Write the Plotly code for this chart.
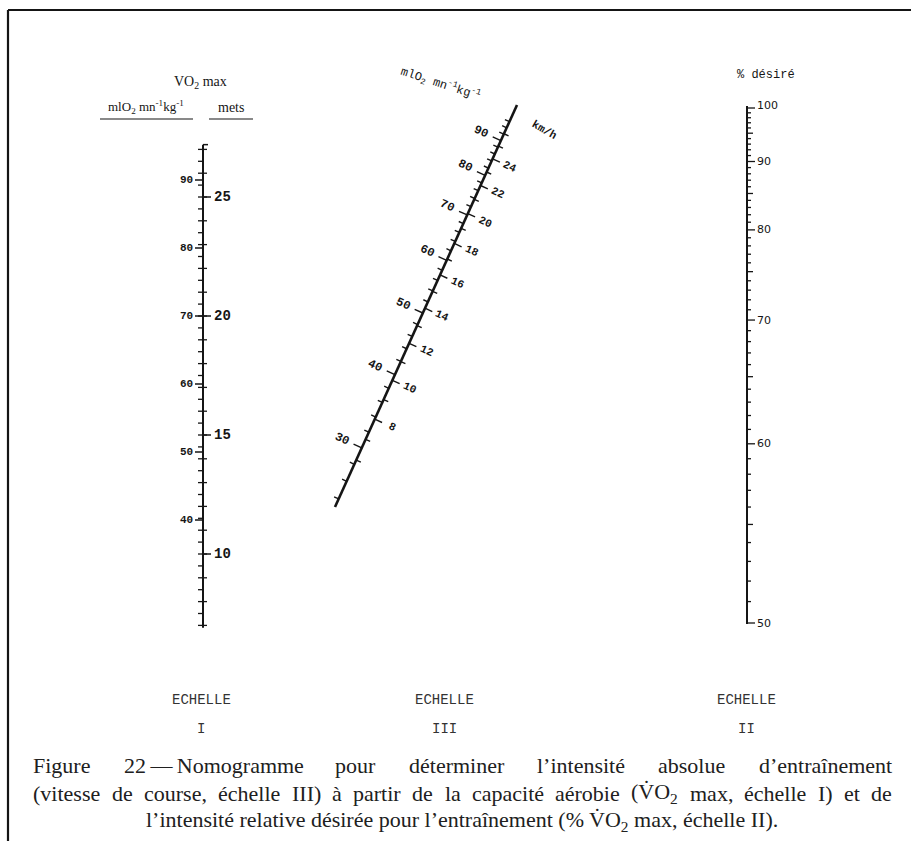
import numpy as np
import plotly.graph_objects as go

# ------------------------------------------------------------------ data
scale1_vo2_labels = [40, 50, 60, 70, 80, 90]            # ml O2 . mn-1 . kg-1
scale1_mets_labels = [10, 15, 20, 25]                    # mets
scale2_pct_labels = [50, 60, 70, 80, 90, 100]            # % désiré
scale3_vo2_labels = [30, 40, 50, 60, 70, 80, 90]         # ml O2 . mn-1 . kg-1
scale3_kmh_labels = [8, 10, 12, 14, 16, 18, 20, 22, 24]  # km/h
echelle_names = ["I", "III", "II"]
caption_lines = [
    "Figure 22\u2009—\u2009Nomogramme pour déterminer l’intensité absolue d’entraînement",
    "(vitesse de course, échelle III) à partir de la capacité aérobie (V\u0307O<sub>2</sub> max, échelle I) et de",
    "l’intensité relative désirée pour l’entraînement (% V\u0307O<sub>2</sub> max, échelle II).",
]

# scale graduations (tick values)
scale1_mets_minor = np.arange(7.0, 27.01, 0.5)
scale2_pct_minor = np.arange(50, 101, 1)
scale3_vo2_minor = np.arange(24, 97, 2)
scale3_kmh_minor = np.arange(6, 27, 1)

# ------------------------------------------------------------------ geometry of the nomogram
W, H = 911, 841
INK = "#151515"
X1 = 203.0                      # scale I
X2 = 747.0                      # scale II
A3 = np.array([335.0, 507.0])   # scale III bottom end
B3 = np.array([517.0, 105.0])   # scale III top end


def y1_mets(m):
    return 316.0 - (m - 20.0) * 23.8


def y1_ml(v):
    return y1_mets(v / 3.5)


def y2(p):
    return 108.0 + 515.0 * ((100.0 / p) ** 1.2 - 1.0) / (2 ** 1.2 - 1.0)


def p3_vo2(r):
    """point of scale III: alignment of scale I (r) with 100 % on scale II"""
    p1 = np.array([X1, y1_ml(r)])
    p2 = np.array([X2, y2(100)])
    d1 = p2 - p1
    d2 = B3 - A3
    M = np.array([[d1[0], -d2[0]], [d1[1], -d2[1]]])
    t, s = np.linalg.solve(M, A3 - p1)
    return A3 + s * d2


def kmh_to_vo2(v):
    # Léger & Mercier running cost
    return 14.49 + 2.143 * v + 0.0324 * v * v


d3 = (B3 - A3) / np.linalg.norm(B3 - A3)
n_left = np.array([d3[1], -d3[0]])
n_right = -n_left
ang3 = float(np.degrees(np.arctan2(n_right[1], n_right[0])))

fig = go.Figure()
ann = []


def text(x, y, s, size, family, anchor="center", angle=0, color=INK):
    ann.append(dict(x=x, y=y, xref="x", yref="y", text=s, showarrow=False,
                    xanchor=anchor, yanchor="middle", textangle=angle,
                    font=dict(size=size, family=family, color=color),
                    borderpad=0))


segs = {}


def seg(w, x0, y0, x1, y1):
    sx, sy = segs.setdefault(w, ([], []))
    sx += [x0, x1, None]
    sy += [y0, y1, None]


# ---------------- frame
seg(2.2, 8, 10, W, 10)
seg(2.2, 8, 10, 8, H)

# ---------------- scale I
seg(2.0, X1, y1_mets(27.2), X1, y1_mets(6.9))
for m in scale1_mets_minor:
    seg(1.3, X1 - 5, y1_mets(m), X1, y1_mets(m))
for m in scale1_mets_minor:
    if abs(m - round(m)) < 1e-6:
        seg(1.3, X1, y1_mets(m), X1 + 4, y1_mets(m))
for m in scale1_mets_labels:
    seg(1.5, X1, y1_mets(m), X1 + 8, y1_mets(m))
    text(X1 + 10, y1_mets(m), "<b>%d</b>" % m, 14, "Liberation Mono", "left")
for v in scale1_vo2_labels:
    seg(1.5, X1 - 8, y1_ml(v), X1, y1_ml(v))
    text(X1 - 9, y1_ml(v), "<b>%d</b>" % v, 11, "Liberation Mono", "right")
seg(1.5, X1, y1_mets(27.2), X1 + 5, y1_mets(27.2))

text(200, 82, "VO<sub>2</sub> max", 14, "Liberation Serif")
text(146, 107, "mlO<sub>2</sub> mn<sup>-1</sup>kg<sup>-1</sup>", 13, "Liberation Serif")
text(231, 107, "mets", 14, "Liberation Serif")
seg(1.2, 100, 119, 193, 119)
seg(1.2, 209, 119, 253, 119)

# ---------------- scale II
seg(2.0, X2, y2(100) - 2, X2, y2(50) + 1)
for p in scale2_pct_minor:
    ln = 8 if p % 10 == 0 else (6 if p % 5 == 0 else 4)
    seg(1.3, X2, y2(p), X2 + ln, y2(p))
for p in scale2_pct_labels:
    yy = y2(p) - (3 if p == 100 else 0)
    text(X2 + 9, yy, "%d" % p, 11, "DejaVu Sans", "left")
text(766, 75, "% désiré", 12, "Liberation Mono")

# ---------------- scale III
seg(2.6, A3[0], A3[1], B3[0], B3[1])
for r in scale3_vo2_minor:
    P = p3_vo2(r)
    ln = 9 if r % 10 == 0 else 5
    Q = P + n_left * ln
    seg(1.4, P[0], P[1], Q[0], Q[1])
for v in scale3_kmh_minor:
    P = p3_vo2(kmh_to_vo2(v))
    ln = 8 if v in scale3_kmh_labels else 5
    Q = P + n_right * ln
    seg(1.4, P[0], P[1], Q[0], Q[1])
for r in scale3_vo2_labels:
    P = p3_vo2(r) + n_left * 22
    text(P[0], P[1], "<b>%d</b>" % r, 12, "Liberation Mono", "center", ang3)
for v in scale3_kmh_labels:
    P = p3_vo2(kmh_to_vo2(v)) + n_right * 19
    text(P[0], P[1], "<b>%d</b>" % v, 11, "Liberation Mono", "center", ang3)
text(440, 84, "mlO<sub>2</sub> mn<sup>-1</sup>kg<sup>-1</sup>", 12, "Liberation Mono", "center", 18)
text(544, 130, "<b>km/h</b>", 11, "Liberation Mono", "center", 30)

# ---------------- échelle titles
for xx, nm in zip([201, 444, 746], echelle_names):
    text(xx, 700, "ECHELLE", 14, "Liberation Mono", color="#333333")
    text(xx, 729, nm, 14, "Liberation Mono", color="#333333")

# ---------------- caption (justified lines)
TNR = {" ": 250, "(": 333, ")": 333, ",": 250, ".": 250, "’": 333, "%": 833, "—": 1000,
       "\u2009": 167, "2": 500, "\u0307": 0,
       "a": 444, "b": 500, "c": 444, "d": 500, "e": 444, "f": 333, "g": 500, "h": 500,
       "i": 278, "j": 278, "k": 500, "l": 278, "m": 778, "n": 500, "o": 500, "p": 500,
       "q": 500, "r": 333, "s": 389, "t": 278, "u": 500, "v": 500, "w": 722, "x": 500,
       "y": 500, "z": 444, "é": 444, "è": 444, "à": 444, "î": 278, "â": 444,
       "F": 556, "I": 333, "N": 722, "O": 722, "V": 722}


def wwidth(word, size):
    w = 0.0
    k = 0
    sub = False
    while k < len(word):
        if word.startswith("<sub>", k):
            sub = True; k += 5; continue
        if word.startswith("</sub>", k):
            sub = False; k += 6; continue
        w += TNR.get(word[k], 500) * (0.7 if sub else 1.0)
        k += 1
    return w * size / 1000.0


CAP = 22
cap_y = [765, 793, 821]
x_left, x_right = 32, 891
for li, line in enumerate(caption_lines):
    if li < 2:
        words = line.split(" ")
        widths = [wwidth(w, CAP) for w in words]
        gap = (x_right - x_left - sum(widths)) / (len(words) - 1)
        xx = x_left
        for w, ww in zip(words, widths):
            text(xx, cap_y[li], w, CAP, "Liberation Serif", "left", color="#202020")
            xx += ww + gap
    else:
        text(462, cap_y[li], line, CAP, "Liberation Serif", "center", color="#202020")

for w, (sx, sy) in segs.items():
    fig.add_trace(go.Scatter(x=sx, y=sy, mode="lines", line=dict(color=INK, width=w),
                             hoverinfo="skip", showlegend=False))

fig.update_layout(
    width=W, height=H, autosize=False,
    margin=dict(l=0, r=0, t=0, b=0),
    paper_bgcolor="white", plot_bgcolor="white",
    xaxis=dict(range=[0, W], visible=False, fixedrange=True),
    yaxis=dict(range=[H, 0], visible=False, fixedrange=True),
    annotations=ann,
    showlegend=False,
)

fig.write_html("out.html", config={"displayModeBar": False},
               post_script="document.body.style.margin='0';document.body.style.overflow='hidden';")
